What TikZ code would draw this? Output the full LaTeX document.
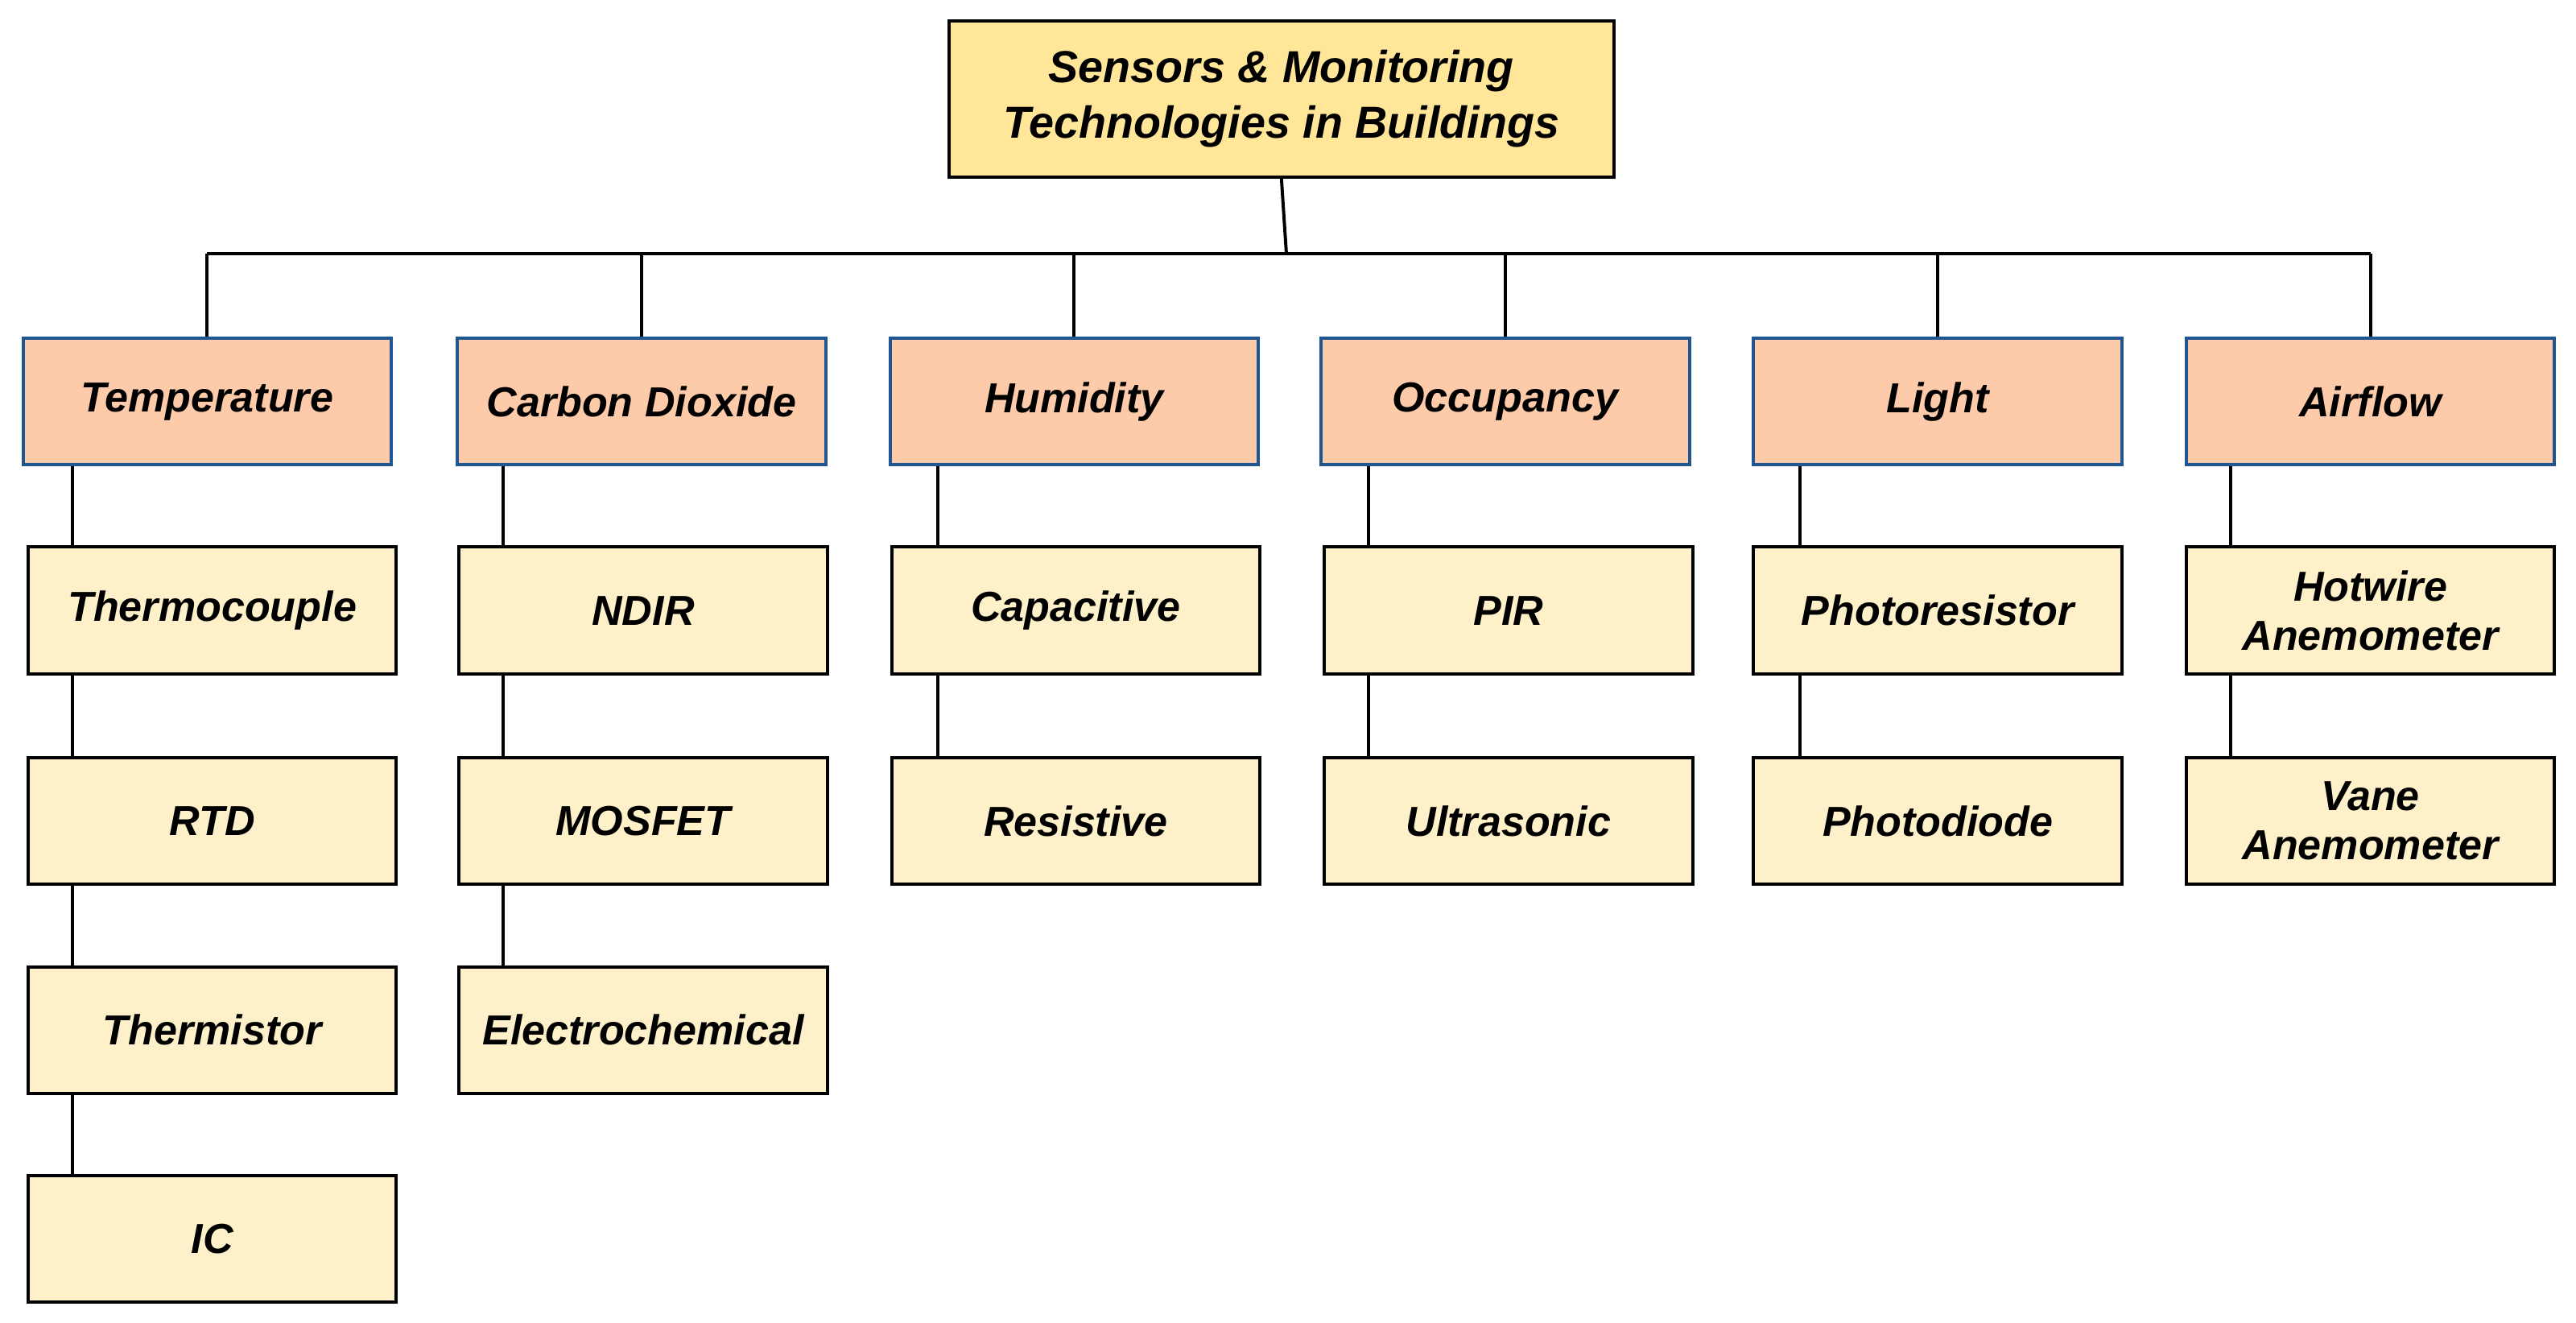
\documentclass[tikz,border=0pt]{standalone}
\usepackage{fontspec}
\setmainfont{Liberation Sans}
\begin{document}
\begin{tikzpicture}[x=0.02cm,y=-0.02cm,
  base/.style={draw,line width=1.1pt,font=\fontsize{14.5}{17}\selectfont\bfseries\itshape,align=center,inner sep=0pt,minimum width=4.48cm,minimum height=1.54cm},
  cat/.style={base,fill=catfill,draw=catdraw},
  leaf/.style={base,fill=leaffill,draw=black},
  ln/.style={line width=1.1pt}]
\definecolor{catfill}{HTML}{FDCBAA}
\definecolor{catdraw}{HTML}{1F5591}
\definecolor{leaffill}{HTML}{FEF0C8}
\definecolor{titfill}{HTML}{FFE699}
\useasboundingbox (0,0) rectangle (1566,804);
\node[base,fill=titfill,minimum width=8.08cm,minimum height=1.9cm,font=\fontsize{15.5}{19}\selectfont\bfseries\itshape] (title) at (779,60) {Sensors \& Monitoring\\Technologies in Buildings};
\coordinate (bus) at (782,154);
\foreach \n/\x/\t in {c1/126/Temperature,c2/390/Carbon Dioxide,c3/653/Humidity,c4/915/Occupancy,c5/1178/Light,c6/1441/Airflow}
  \node[cat] (\n) at (\x,244) {\t};
\draw[ln] (title.south) -- (bus);
\draw[ln] (c1.north |- bus) -- (c6.north |- bus);
\foreach \n in {c1,c2,c3,c4,c5,c6} \draw[ln] (\n.north) -- (\n.north |- bus);
% leaves
\node[leaf] (a1) at (129,371) {Thermocouple};
\node[leaf] (a2) at (129,499) {RTD};
\node[leaf] (a3) at (129,626) {Thermistor};
\node[leaf] (a4) at (129,753) {IC};
\node[leaf] (b1) at (391,371) {NDIR};
\node[leaf] (b2) at (391,499) {MOSFET};
\node[leaf] (b3) at (391,626) {Electrochemical};
\node[leaf] (h1) at (654,371) {Capacitive};
\node[leaf] (h2) at (654,499) {Resistive};
\node[leaf] (o1) at (917,371) {PIR};
\node[leaf] (o2) at (917,499) {Ultrasonic};
\node[leaf] (l1) at (1178,371) {Photoresistor};
\node[leaf] (l2) at (1178,499) {Photodiode};
\node[leaf] (f1) at (1441,371) {Hotwire\\Anemometer};
\node[leaf] (f2) at (1441,499) {Vane\\Anemometer};
\foreach \p/\c/\x in {c1/a1/44,a1/a2/44,a2/a3/44,a3/a4/44,c2/b1/306,b1/b2/306,b2/b3/306,c3/h1/570,h1/h2/570,c4/o1/832,o1/o2/832,c5/l1/1094,l1/l2/1094,c6/f1/1356,f1/f2/1356}
  \draw[ln] (\x,0 |- \p.south) -- (\x,0 |- \c.north);
\end{tikzpicture}
\end{document}
